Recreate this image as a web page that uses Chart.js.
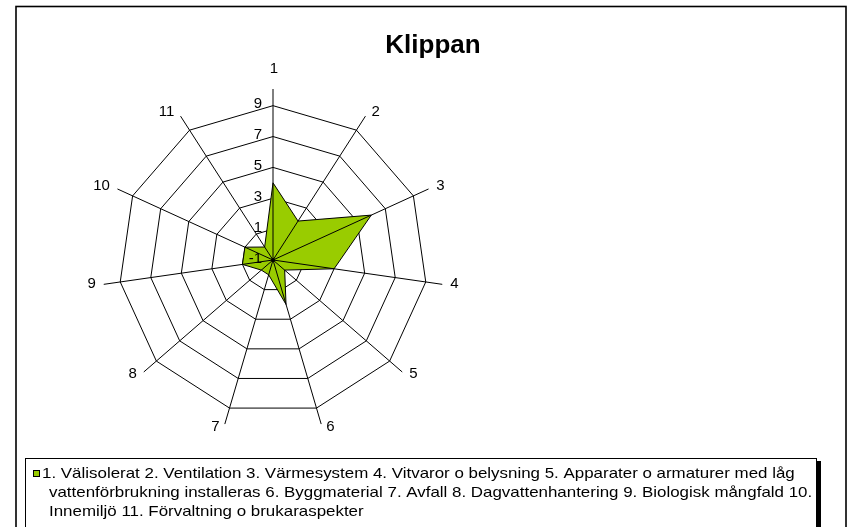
<!DOCTYPE html>
<html><head><meta charset="utf-8">
<script src="https://cdn.jsdelivr.net/npm/chart.js@4/dist/chart.umd.min.js"></script>
<style>html,body{margin:0;padding:0;background:#fff;} canvas{display:block;}</style>
</head><body>
<canvas id="c" width="851" height="527"></canvas>
<script>
const chartTitle = 'Klippan';
const categories = ['1','2','3','4','5','6','7','8','9','10','11'];
const seriesName = '1. Välisolerat 2. Ventilation 3. Värmesystem 4. Vitvaror o belysning 5. Apparater o armaturer med låg vattenförbrukning installeras 6. Byggmaterial 7. Avfall 8. Dagvattenhantering 9. Biologisk mångfald 10. Innemiljö 11. Förvaltning o brukaraspekter';
const values = [4, 2, 6, 3, 0, 2, 0, 0, 1, 1, 0];
const tickValues = [-1, 1, 3, 5, 7, 9];
const axisMin = -1;
const axisMax = 10.08;

const FONT = '"Liberation Sans", Arial, sans-serif';
const GREEN = '#99CC00';

const decor = {
  id: 'decor',
  beforeDraw(chart) {
    const ctx = chart.ctx;
    ctx.save();
    ctx.fillStyle = '#fff';
    ctx.fillRect(0, 0, chart.width, chart.height);
    ctx.strokeStyle = '#000';
    ctx.lineWidth = 1.6;
    ctx.strokeRect(16, 6.5, 830, 540);
    ctx.restore();
  },
  afterDatasetsDraw(chart) {
    const ctx = chart.ctx, s = chart.scales.r;
    const R = s.getDistanceFromCenterForValue(s.max);
    ctx.save();
    ctx.strokeStyle = '#000';
    ctx.lineWidth = 1;
    categories.forEach((c, i) => {
      const p = s.getPointPosition(i, R);
      ctx.beginPath();
      ctx.moveTo(s.xCenter, s.yCenter);
      ctx.lineTo(p.x, p.y);
      ctx.stroke();
    });
    ctx.fillStyle = '#000';
    ctx.beginPath();
    ctx.arc(s.xCenter, s.yCenter, 2, 0, Math.PI * 2);
    ctx.fill();
    ctx.restore();
  },
  afterDraw(chart) {
    const ctx = chart.ctx, s = chart.scales.r;
    ctx.save();
    ctx.fillStyle = '#000';
    // tick labels
    ctx.font = '15px ' + FONT;
    ctx.textAlign = 'right';
    ctx.textBaseline = 'middle';
    s.ticks.forEach(t => {
      const p = s.getPointPositionForValue(0, t.value);
      ctx.fillText(String(t.value), p.x - 11, p.y - 1.5);
    });
    // point labels
    const R = s.getDistanceFromCenterForValue(s.max);
    categories.forEach((lab, i) => {
      const p = s.getPointPosition(i, R);
      const a = p.angle + Math.PI / 2;
      const sn = Math.sin(a), cs = Math.cos(a);
      if (Math.abs(sn) < 0.1) {
        ctx.textAlign = 'center';
        ctx.fillText(lab, p.x + 1, p.y - 20);
      } else {
        ctx.textAlign = sn > 0 ? 'left' : 'right';
        const gap = 4 + 4 * Math.abs(sn);
        ctx.fillText(lab, p.x + Math.sign(sn) * gap, p.y - cs * 4 - 1);
      }
    });
    // title
    ctx.font = 'bold 26px ' + FONT;
    ctx.textAlign = 'center';
    ctx.textBaseline = 'alphabetic';
    ctx.fillText(chartTitle, 433, 53);
    // legend box
    const lx = 25, ly = 458, lw = 791, lh = 90;
    ctx.fillStyle = '#000';
    ctx.fillRect(lx + lw, ly + 3, 5, lh);
    ctx.fillStyle = '#fff';
    ctx.fillRect(lx, ly, lw, lh);
    ctx.strokeStyle = '#000';
    ctx.lineWidth = 1;
    ctx.strokeRect(lx + 0.5, ly + 0.5, lw, lh);
    ctx.fillStyle = GREEN;
    ctx.fillRect(33.5, 470.5, 6, 6);
    ctx.strokeRect(33.5, 470.5, 6, 6);
    // legend text, wrapped
    ctx.font = '15px ' + FONT;
    ctx.fillStyle = '#000';
    ctx.textAlign = 'left';
    const sx = 1840 / ctx.measureText(seriesName).width;
    const words = seriesName.split(' ');
    const lines = [];
    let cur = '';
    words.forEach(w => {
      const test = cur ? cur + ' ' + w : w;
      const indent = lines.length === 0 ? 0 : 7;
      if (cur && ctx.measureText(test).width * sx > 785 - indent) {
        lines.push(cur); cur = w;
      } else cur = test;
    });
    if (cur) lines.push(cur);
    lines.forEach((ln, k) => {
      ctx.save();
      ctx.translate(k === 0 ? 42 : 49, 478 + k * 19);
      ctx.scale(sx, 1);
      ctx.fillText(ln, 0, 0);
      ctx.restore();
    });
    ctx.restore();
  }
};

new Chart(document.getElementById('c'), {
  type: 'radar',
  data: {
    labels: categories,
    datasets: [{
      label: seriesName,
      data: values,
      backgroundColor: GREEN,
      borderColor: '#000',
      borderWidth: 1,
      fill: 'start',
      pointRadius: 0,
      tension: 0
    }]
  },
  options: {
    responsive: false,
    animation: false,
    devicePixelRatio: 1,
    layout: { padding: { left: 102, top: 89, right: 407, bottom: 96 } },
    plugins: { legend: { display: false }, title: { display: false }, tooltip: { enabled: false } },
    scales: {
      r: {
        min: axisMin,
        max: axisMax,
        startAngle: 0,
        ticks: { display: false },
        afterBuildTicks: (sc) => { sc.ticks = tickValues.map(v => ({ value: v })); },
        grid: { color: '#000', lineWidth: 1, circular: false },
        angleLines: { display: false },
        pointLabels: { display: false }
      }
    }
  },
  plugins: [decor]
});
</script>
</body></html>
